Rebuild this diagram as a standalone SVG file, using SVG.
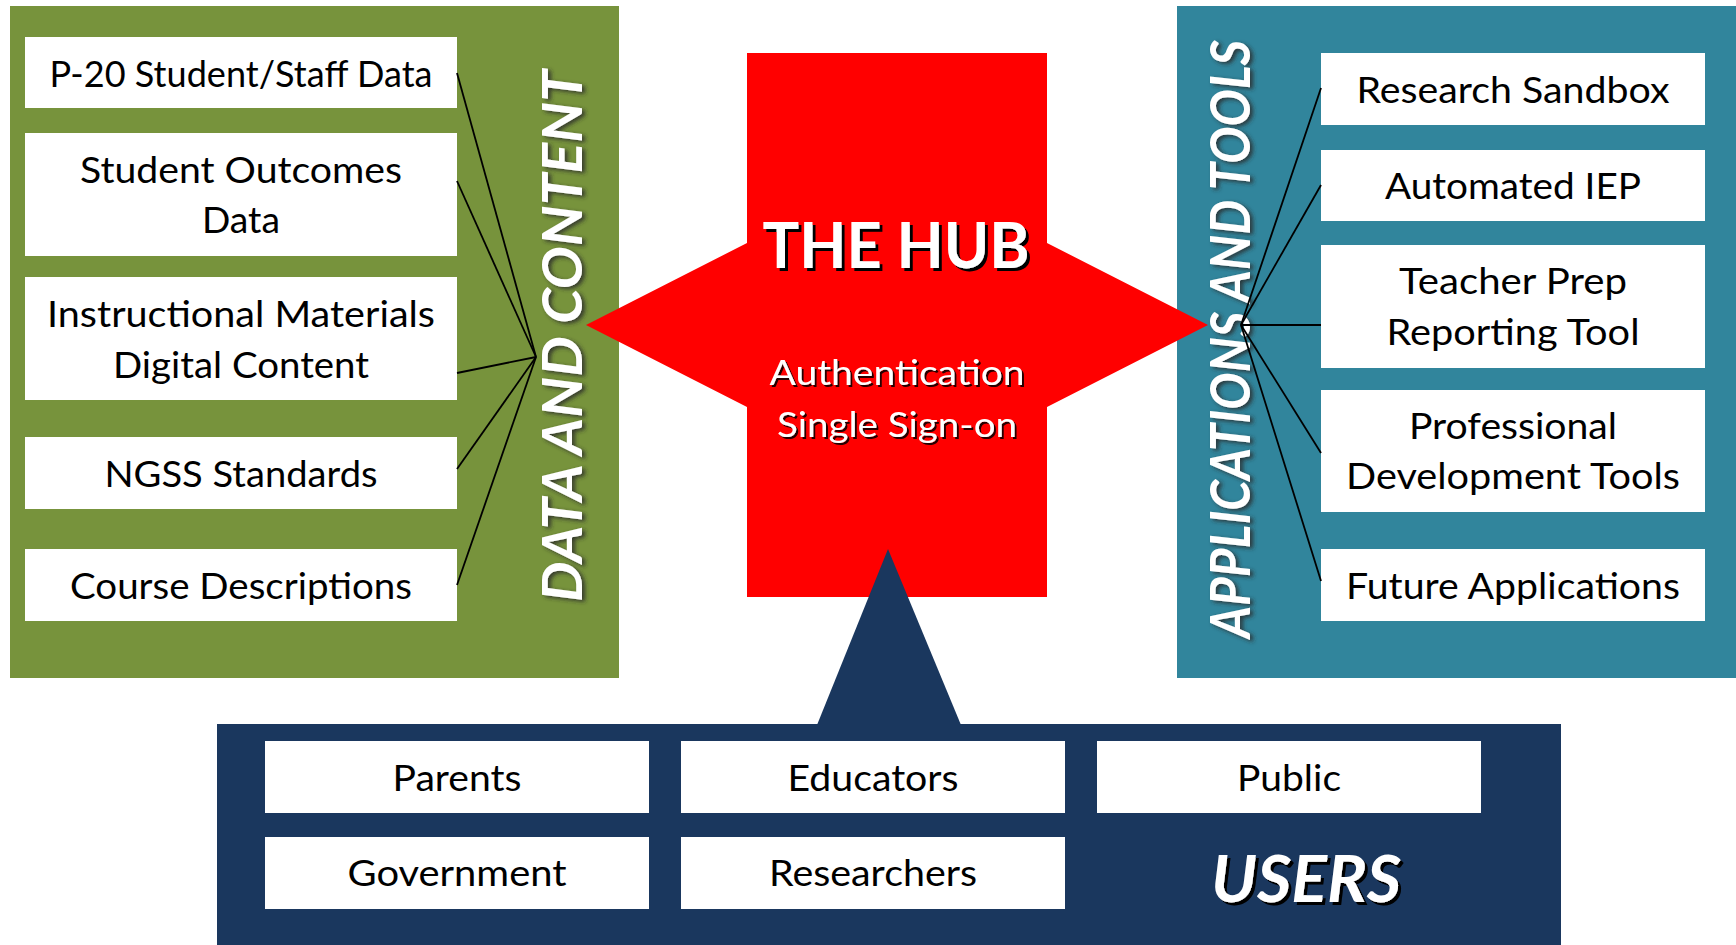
<svg xmlns="http://www.w3.org/2000/svg" width="1736" height="945" viewBox="0 0 1736 945">
  <style>
    .box { fill: #ffffff; }
    .lbl { font-family: Lato, "Liberation Sans", sans-serif; font-size: 36px; fill: #000000; text-anchor: middle; }
    .hubtitle { font-family: Lato, "Liberation Sans", sans-serif; font-weight: bold; font-size: 63px; fill: #ffffff; text-anchor: middle; }
    .hubsub { font-family: Lato, "Liberation Sans", sans-serif; font-size: 34px; fill: #ffffff; text-anchor: middle; }
    .side { font-family: Lato, "Liberation Sans", sans-serif; font-weight: bold; font-style: italic; font-size: 55px; fill: #ffffff; text-anchor: middle; }
    .users { font-family: Lato, "Liberation Sans", sans-serif; font-weight: bold; font-style: italic; font-size: 65px; fill: #ffffff; text-anchor: middle; }
    .link { stroke: #000000; stroke-width: 1.8; fill: none; }
  </style>
  <defs>
    <filter id="hardShadow" x="-10%" y="-20%" width="130%" height="160%">
      <feDropShadow dx="3" dy="3" stdDeviation="0.4" flood-color="#000000" flood-opacity="1"/>
    </filter>
    <filter id="thinShadow" x="-10%" y="-20%" width="130%" height="160%">
      <feDropShadow dx="2" dy="2" stdDeviation="0.4" flood-color="#000000" flood-opacity="0.85"/>
    </filter>
    <filter id="softShadow" x="-30%" y="-10%" width="160%" height="120%">
      <feDropShadow dx="3" dy="2" stdDeviation="2" flood-color="#2a2a2a" flood-opacity="0.85"/>
    </filter>
  </defs>

  <rect width="1736" height="945" fill="#ffffff"/>

  <!-- Data and content panel -->
  <g id="data-content">
    <rect x="10" y="6" width="609" height="672" fill="#77933C"/>
    <g filter="url(#softShadow)">
      <text class="side" transform="translate(582,336) rotate(-90)" x="0" y="0" textLength="532" lengthAdjust="spacingAndGlyphs">DATA AND CONTENT</text>
    </g>
  </g>

  <!-- Applications and tools panel -->
  <g id="apps-tools">
    <rect x="1177" y="6" width="559" height="672" fill="#31859C"/>
    <g filter="url(#softShadow)">
      <text class="side" transform="translate(1250,339) rotate(-90)" x="0" y="0" textLength="598" lengthAdjust="spacingAndGlyphs">APPLICATIONS AND TOOLS</text>
    </g>
  </g>

  <!-- Users panel -->
  <g id="users">
    <rect x="217" y="724" width="1344" height="221" fill="#1A375E"/>
    <g filter="url(#hardShadow)">
      <text class="users" x="1306" y="902" textLength="190" lengthAdjust="spacingAndGlyphs">USERS</text>
    </g>
  </g>

  <!-- Hub: block with arrow points to each side -->
  <g id="hub">
    <polygon points="747,53 1047,53 1047,243 1208,325 1047,407 1047,597 747,597 747,407 586,325 747,243" fill="#FF0000"/>
    <g filter="url(#hardShadow)">
      <text class="hubtitle" x="896" y="268" textLength="267" lengthAdjust="spacingAndGlyphs">THE HUB</text>
    </g>
    <g filter="url(#thinShadow)">
      <text class="hubsub" x="897" y="385" textLength="255" lengthAdjust="spacingAndGlyphs">Authentication</text>
      <text class="hubsub" x="897" y="437" textLength="240" lengthAdjust="spacingAndGlyphs">Single Sign-on</text>
    </g>
  </g>

  <!-- Pointer from users up into the hub -->
  <g id="users-pointer">
    <polygon points="888,549 961,725 817,725" fill="#1A375E"/>
  </g>

  <!-- Data sources -->
  <g id="p20-data">
    <rect class="box" x="25" y="37" width="432" height="71"/>
    <text class="lbl" x="241" y="87" textLength="383" lengthAdjust="spacingAndGlyphs">P-20 Student/Staff Data</text>
  </g>
  <g id="outcomes-data">
    <rect class="box" x="25" y="133" width="432" height="123"/>
    <text class="lbl" x="241" y="183" textLength="322" lengthAdjust="spacingAndGlyphs">Student Outcomes</text>
    <text class="lbl" x="241" y="233" textLength="78" lengthAdjust="spacingAndGlyphs">Data</text>
  </g>
  <g id="instructional-materials">
    <rect class="box" x="25" y="277" width="432" height="123"/>
    <text class="lbl" x="241" y="327" textLength="388" lengthAdjust="spacingAndGlyphs">Instructional Materials</text>
    <text class="lbl" x="241" y="378" textLength="256" lengthAdjust="spacingAndGlyphs">Digital Content</text>
  </g>
  <g id="ngss">
    <rect class="box" x="25" y="437" width="432" height="72"/>
    <text class="lbl" x="241" y="487" textLength="273" lengthAdjust="spacingAndGlyphs">NGSS Standards</text>
  </g>
  <g id="course-descriptions">
    <rect class="box" x="25" y="549" width="432" height="72"/>
    <text class="lbl" x="241" y="599" textLength="342" lengthAdjust="spacingAndGlyphs">Course Descriptions</text>
  </g>

  <!-- Applications -->
  <g id="research-sandbox">
    <rect class="box" x="1321" y="53" width="384" height="72"/>
    <text class="lbl" x="1513" y="103" textLength="313" lengthAdjust="spacingAndGlyphs">Research Sandbox</text>
  </g>
  <g id="automated-iep">
    <rect class="box" x="1321" y="150" width="384" height="71"/>
    <text class="lbl" x="1513" y="199" textLength="256" lengthAdjust="spacingAndGlyphs">Automated IEP</text>
  </g>
  <g id="teacher-prep">
    <rect class="box" x="1321" y="245" width="384" height="123"/>
    <text class="lbl" x="1513" y="294" textLength="228" lengthAdjust="spacingAndGlyphs">Teacher Prep</text>
    <text class="lbl" x="1513" y="345" textLength="253" lengthAdjust="spacingAndGlyphs">Reporting Tool</text>
  </g>
  <g id="professional-development">
    <rect class="box" x="1321" y="390" width="384" height="122"/>
    <text class="lbl" x="1513" y="439" textLength="208" lengthAdjust="spacingAndGlyphs">Professional</text>
    <text class="lbl" x="1513" y="489" textLength="334" lengthAdjust="spacingAndGlyphs">Development Tools</text>
  </g>
  <g id="future-applications">
    <rect class="box" x="1321" y="549" width="384" height="72"/>
    <text class="lbl" x="1513" y="599" textLength="334" lengthAdjust="spacingAndGlyphs">Future Applications</text>
  </g>

  <!-- User groups -->
  <g id="parents">
    <rect class="box" x="265" y="741" width="384" height="72"/>
    <text class="lbl" x="457" y="791" textLength="129" lengthAdjust="spacingAndGlyphs">Parents</text>
  </g>
  <g id="educators">
    <rect class="box" x="681" y="741" width="384" height="72"/>
    <text class="lbl" x="873" y="791" textLength="171" lengthAdjust="spacingAndGlyphs">Educators</text>
  </g>
  <g id="public">
    <rect class="box" x="1097" y="741" width="384" height="72"/>
    <text class="lbl" x="1289" y="791" textLength="104" lengthAdjust="spacingAndGlyphs">Public</text>
  </g>
  <g id="government">
    <rect class="box" x="265" y="837" width="384" height="72"/>
    <text class="lbl" x="457" y="886" textLength="219" lengthAdjust="spacingAndGlyphs">Government</text>
  </g>
  <g id="researchers">
    <rect class="box" x="681" y="837" width="384" height="72"/>
    <text class="lbl" x="873" y="886" textLength="208" lengthAdjust="spacingAndGlyphs">Researchers</text>
  </g>

  <!-- Fan-in lines joining the boxes to a common point on each panel -->
  <g id="connectors">
    <line class="link" x1="457" y1="73" x2="536" y2="357"/>
    <line class="link" x1="457" y1="181" x2="536" y2="357"/>
    <line class="link" x1="457" y1="373" x2="536" y2="357"/>
    <line class="link" x1="457" y1="469" x2="536" y2="357"/>
    <line class="link" x1="457" y1="585" x2="536" y2="357"/>
    <line class="link" x1="1321" y1="88" x2="1241" y2="325"/>
    <line class="link" x1="1321" y1="185" x2="1241" y2="325"/>
    <line class="link" x1="1321" y1="325" x2="1241" y2="325"/>
    <line class="link" x1="1321" y1="453" x2="1241" y2="325"/>
    <line class="link" x1="1321" y1="581" x2="1241" y2="325"/>
  </g>
</svg>
